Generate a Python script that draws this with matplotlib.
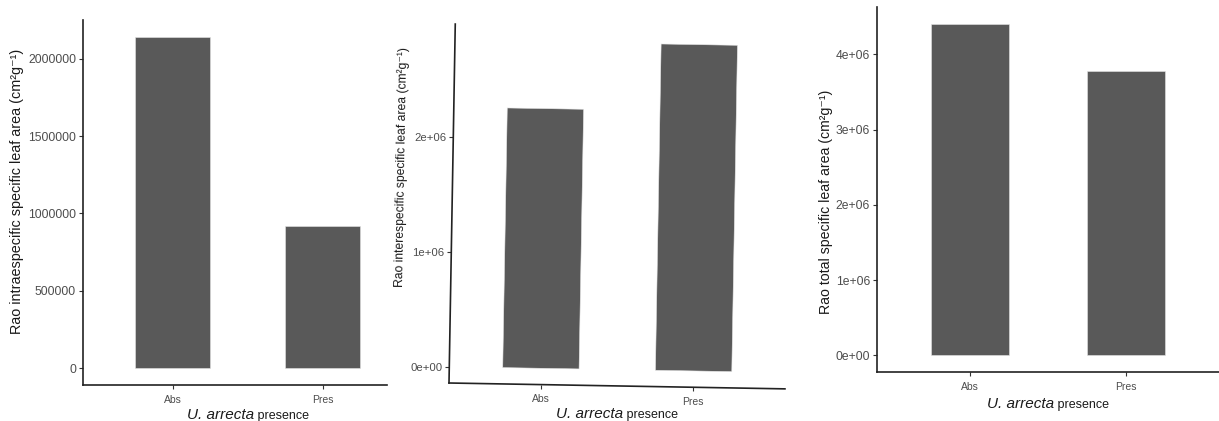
import matplotlib
matplotlib.use("Agg")
import matplotlib.pyplot as plt
import matplotlib.transforms as mtransforms
from matplotlib.ticker import FuncFormatter

plt.rcParams['font.family'] = ['Liberation Sans', 'DejaVu Sans']

groups = ["Abs", "Pres"]
rao_intra = [2142000, 919000]
rao_inter = [2260000, 2840000]
rao_total = [4410000, 3780000]

intra_ticks = [0, 500000, 1000000, 1500000, 2000000]
inter_ticks = [0, 1000000, 2000000]
total_ticks = [0, 1000000, 2000000, 3000000, 4000000]

bar_col = "#595959"
text_col = "#4d4d4d"

W, H = 1219, 421
fig = plt.figure(figsize=(W / 100, H / 100), dpi=100)


def sci(v, pos=None):
    return "%.0e" % v


def plain(v, pos=None):
    return "%d" % v


def panel(rect_px, vals, ticks, fmt, ylabel, ylab_xy, xright, title_base,
          tick_fs, lab_fs, lab_rot=90):
    l, t, r, b = rect_px
    ax = fig.add_axes([l / W, 1 - b / H, (r - l) / W, (b - t) / H])
    x = [1, 2]
    ax.bar(x, vals, width=0.5, color=bar_col, edgecolor="#e6e6e6", linewidth=0.4)
    top = max(vals)
    ax.set_ylim(-0.05 * top, 1.05 * top)
    ax.set_xlim(0.4, xright)
    ax.set_xticks(x)
    ax.set_xticklabels(groups, fontsize=7.5, color=text_col)
    ax.set_yticks(ticks)
    ax.yaxis.set_major_formatter(FuncFormatter(fmt))
    ax.tick_params(axis="y", labelsize=tick_fs, labelcolor=text_col, length=3,
                   width=0.8, color="#333333", pad=2)
    ax.tick_params(axis="x", length=3, width=0.8, color="#333333", pad=4)
    for s in ["top", "right"]:
        ax.spines[s].set_visible(False)
    for s in ["left", "bottom"]:
        ax.spines[s].set_linewidth(1.2)
        ax.spines[s].set_color("#222222")
    fig.text(ylab_xy[0] / W, 1 - ylab_xy[1] / H, ylabel, rotation=lab_rot,
             ha="center", va="center", fontsize=lab_fs, color="#1a1a1a")

    # axis title: italic species name followed by plain word, centred under the panel
    trans = mtransforms.blended_transform_factory(ax.transData, fig.transFigure)
    yb = 1 - title_base / H
    t1 = ax.text(1.5, yb, "U. arrecta", fontsize=11, style="italic",
                 color="#1a1a1a", transform=trans, ha="left", va="baseline")
    t2 = ax.text(1.5, yb, " presence", fontsize=9, color="#1a1a1a",
                 transform=trans, ha="left", va="baseline")
    return ax, t1, t2


p1 = panel((83, 20, 387, 385), rao_intra, intra_ticks, plain,
           "Rao intraespecific specific leaf area (cm²g⁻¹)", (17, 191), 2.43, 419, 8.7, 10.4)
p2 = panel((449, 24, 785, 383), rao_inter, inter_ticks, sci,
           "Rao interespecific specific leaf area (cm²g⁻¹)", (402, 167), 2.6, 418, 8.2, 8.75,
           lab_rot=89)
p3 = panel((877, 7, 1219, 372), rao_total, total_ticks, sci,
           "Rao total specific leaf area (cm²g⁻¹)", (826, 202), 2.6, 408, 8.7, 10.2)

fig.canvas.draw()
r = fig.canvas.get_renderer()
for ax, t1, t2 in (p1, p2, p3):
    w1 = t1.get_window_extent(r).width
    w2 = t2.get_window_extent(r).width
    cx = ax.transData.transform((1.5, 0))[0]
    start = cx - (w1 + w2) / 2
    inv = ax.transData.inverted()
    t1.set_x(inv.transform((start, 0))[0])
    t2.set_x(inv.transform((start + w1, 0))[0])
    for t in (t1, t2):
        t.set_clip_on(False)

# the middle panel sits slightly tilted: turn its bars, spines and ticks about the corner
ax2 = p2[0]
px, py = ax2.transAxes.transform((0, 0))
tilt = mtransforms.Affine2D().rotate_deg_around(px, py, -1.0)
for bar in ax2.patches:
    bar.set_transform(ax2.transData + tilt)
    bar.set_clip_on(False)
for sp in ax2.spines.values():
    sp.set_transform(sp.get_transform() + tilt)
for tick in ax2.xaxis.get_major_ticks() + ax2.yaxis.get_major_ticks():
    for a in (tick.tick1line, tick.label1):
        a.set_transform(a.get_transform() + tilt)

fig.savefig("out.png", dpi=100)
